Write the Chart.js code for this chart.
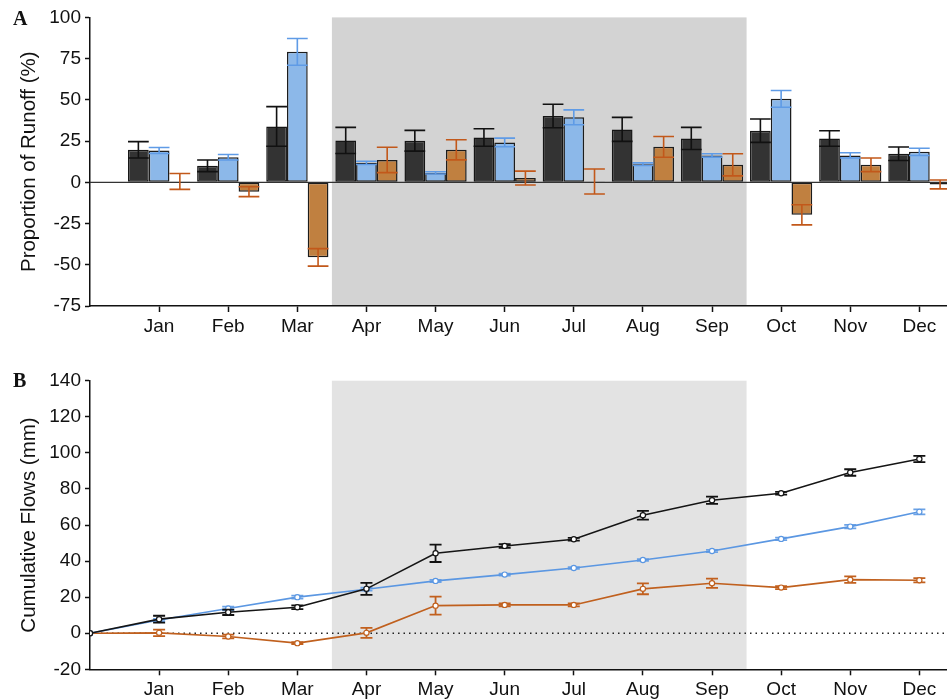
<!DOCTYPE html>
<html>
<head>
<meta charset="utf-8">
<script src="https://cdn.jsdelivr.net/npm/chart.js@4.4.0/dist/chart.umd.min.js"></script>
<style>
  html, body { margin: 0; padding: 0; background: #fff; }
  #wrap { position: relative; width: 947px; height: 699px; overflow: hidden; }
  canvas { position: absolute; left: 0; }
  #chartA { top: 0; }
  #chartB { top: 360px; }
</style>
</head>
<body>
<div id="wrap">
  <canvas id="chartA" width="947" height="360"></canvas>
  <canvas id="chartB" width="947" height="339"></canvas>
</div>
<script>
// Month categories and their positions on the numeric x axis
const months = ['Jan', 'Feb', 'Mar', 'Apr', 'May', 'Jun', 'Jul', 'Aug', 'Sep', 'Oct', 'Nov', 'Dec'];
const monthPos = [1, 2, 3, 4, 5, 6, 7, 8, 9, 10, 11, 12];
const shadedSpan = [3.5, 9.5];          // Apr–Sep band

// Panel A: proportion of runoff (%), mean and error
const runoffDark = [19.7, 10.0, 33.9, 25.4, 25.2, 27.2, 40.2, 32.1, 26.6, 31.3, 26.6, 17.3];
const runoffDarkErr = [5.0, 3.5, 12.0, 7.9, 6.3, 5.3, 7.1, 7.3, 6.7, 7.1, 4.7, 4.1];
const runoffBlue = [19.3, 15.2, 79.1, 11.8, 5.7, 24.2, 39.4, 11.0, 16.3, 50.6, 16.3, 18.5];
const runoffBlueErr = [1.8, 1.7, 8.1, 1.0, 0.7, 2.6, 4.5, 0.8, 1.0, 5.1, 1.6, 2.2];
const runoffOrange = [0.5, -5.7, -45.5, 13.6, 19.7, 2.6, 0.5, 21.5, 10.6, -19.7, 10.6, -1.3];
const runoffOrangeErr = [4.8, 3.0, 5.3, 7.7, 6.1, 4.2, 7.6, 6.3, 6.7, 6.1, 4.1, 2.7];
const runoffTicks = [-75, -50, -25, 0, 25, 50, 75, 100];

// Panel B: cumulative flows (mm), starting from the origin
const flowPos = [0, 1, 2, 3, 4, 5, 6, 7, 8, 9, 10, 11, 12];
const flowDark = [0, 7.8, 11.6, 14.4, 24.6, 44.3, 48.4, 52.1, 65.4, 73.7, 77.6, 89.1, 96.6];
const flowDarkErr = [0, 1.9, 1.5, 1.0, 3.3, 4.8, 1.0, 0.8, 2.4, 2.0, 0.8, 1.8, 1.7];
const flowBlue = [0, 7.3, 13.7, 20.0, 24.4, 29.0, 32.5, 36.2, 40.6, 45.6, 52.3, 59.1, 67.3];
const flowBlueErr = [0, 0.6, 1.0, 0.8, 0.8, 0.6, 0.5, 0.5, 0.5, 0.6, 0.7, 1.0, 1.4];
const flowOrange = [0, 0.2, -1.8, -5.5, 0.2, 15.3, 15.7, 15.7, 24.6, 27.7, 25.3, 29.7, 29.4];
const flowOrangeErr = [0, 1.8, 1.0, 0.5, 2.8, 5.0, 0.8, 0.8, 3.0, 2.6, 0.8, 1.8, 1.2];
const flowTicks = [-20, 0, 20, 40, 60, 80, 100, 120, 140];

const FONT = "'Liberation Sans', Arial, Helvetica, sans-serif";
const INK = '#111';

const pairs = (xs, ys) => ys.map((y, i) => ({ x: xs[i], y }));

// Shaded season band, behind everything
const bandPlugin = {
  id: 'band',
  beforeDraw(chart, args, opts) {
    const { ctx, chartArea: a, scales: { x } } = chart;
    const x0 = x.getPixelForValue(opts.from), x1 = x.getPixelForValue(opts.to);
    ctx.save();
    ctx.fillStyle = opts.color;
    ctx.fillRect(x0, a.top, x1 - x0, a.bottom - a.top);
    ctx.restore();
  }
};

// Horizontal reference line at y = 0
const zeroPlugin = {
  id: 'zeroLine',
  beforeDatasetsDraw(chart, args, opts) {
    const { ctx, chartArea: a, scales: { y } } = chart;
    const py = y.getPixelForValue(0);
    ctx.save();
    ctx.strokeStyle = opts.color;
    ctx.lineWidth = opts.width;
    ctx.setLineDash(opts.dash || []);
    ctx.beginPath();
    ctx.moveTo(a.left, py);
    ctx.lineTo(a.right, py);
    ctx.stroke();
    ctx.restore();
  }
};

// Error bars with caps; bars get them on top, line series underneath the markers
function drawErrors(chart, index) {
  const ds = chart.data.datasets[index];
  if (!ds.errors) return;
  const meta = chart.getDatasetMeta(index);
  const { ctx, scales: { y } } = chart;
  ctx.save();
  ctx.strokeStyle = ds.errColor;
  ctx.lineWidth = ds.errWidth;
  meta.data.forEach((el, i) => {
    const e = ds.errors[i];
    if (!e) return;
    const v = ds.data[i].y;
    const hi = y.getPixelForValue(v + e), lo = y.getPixelForValue(v - e);
    const half = ds.capHalf != null ? ds.capHalf : el.width / 2;
    ctx.beginPath();
    ctx.moveTo(el.x, hi); ctx.lineTo(el.x, lo);
    ctx.moveTo(el.x - half, hi); ctx.lineTo(el.x + half, hi);
    ctx.moveTo(el.x - half, lo); ctx.lineTo(el.x + half, lo);
    ctx.stroke();
  });
  ctx.restore();
}
const errorPlugin = {
  id: 'errorBars',
  beforeDatasetDraw(chart, args) {
    if (chart.config.type === 'line') drawErrors(chart, args.index);
  },
  afterDatasetDraw(chart, args) {
    if (chart.config.type === 'bar') drawErrors(chart, args.index);
  }
};

// Panel letter in the top-left corner
const letterPlugin = {
  id: 'panelLetter',
  afterDraw(chart, args, opts) {
    const ctx = chart.ctx;
    ctx.save();
    ctx.font = "bold 20px 'Liberation Serif', 'Times New Roman', serif";
    ctx.fillStyle = INK;
    ctx.textBaseline = 'alphabetic';
    ctx.fillText(opts.text, 13, opts.baseline);
    ctx.restore();
  }
};

function xScale(height) {
  return {
    type: 'linear', min: 0, max: 12.4, offset: false,
    afterBuildTicks: s => { s.ticks = monthPos.map(v => ({ value: v })); },
    ticks: {
      callback: (v, i) => months[i],
      autoSkip: false, maxRotation: 0, padding: 3,
      color: INK, font: { family: FONT, size: 19 }
    },
    grid: { offset: false, drawOnChartArea: false, tickLength: 6, tickColor: INK, tickWidth: 1.5 },
    border: { color: INK, width: 1.5 },
    afterFit: s => { s.height = height; s.paddingLeft = 0; s.paddingRight = 0; }
  };
}

function yScale(min, max, tickValues, title) {
  return {
    min, max,
    afterBuildTicks: s => { s.ticks = tickValues.map(v => ({ value: v })); },
    ticks: { color: INK, padding: 4, font: { family: FONT, size: 19 } },
    grid: { drawOnChartArea: false, tickLength: 5, tickColor: INK, tickWidth: 1.5 },
    border: { color: INK, width: 1.5 },
    title: { display: true, text: title, color: INK, font: { family: FONT, size: 20.5 }, padding: { top: 17, bottom: 0 } },
    afterFit: s => { s.width = 90; s.paddingTop = 0; s.paddingBottom = 0; }
  };
}

const common = {
  responsive: false,
  animation: false,
  events: [],
  plugins: { legend: { display: false }, tooltip: { enabled: false } }
};

new Chart(document.getElementById('chartA'), {
  type: 'bar',
  data: {
    datasets: [
      { label: 'Series 1', data: pairs(monthPos, runoffDark), errors: runoffDarkErr,
        backgroundColor: '#333333', borderColor: '#151515', errColor: '#111', errWidth: 1.6 },
      { label: 'Series 2', data: pairs(monthPos, runoffBlue), errors: runoffBlueErr,
        backgroundColor: '#8cb8e9', borderColor: '#1c1c1c', errColor: '#5f9be6', errWidth: 1.6 },
      { label: 'Series 3', data: pairs(monthPos, runoffOrange), errors: runoffOrangeErr,
        backgroundColor: '#c08040', borderColor: '#1c1c1c', errColor: '#c2581a', errWidth: 1.6 }
    ].map(d => Object.assign(d, { borderWidth: 1.5, borderSkipped: false, categoryPercentage: 0.9, barPercentage: 1.0 }))
  },
  options: Object.assign({}, common, {
    layout: { autoPadding: false, padding: { top: 17.4, left: 0, right: 0, bottom: 0 } },
    scales: { x: xScale(54), y: yScale(-75, 100, runoffTicks, 'Proportion of Runoff (%)') },
    plugins: Object.assign({}, common.plugins, {
      band: { from: shadedSpan[0], to: shadedSpan[1], color: '#d3d3d3' },
      zeroLine: { color: '#333', width: 1.3 },
      panelLetter: { text: 'A', baseline: 25 }
    })
  }),
  plugins: [bandPlugin, zeroPlugin, errorPlugin, letterPlugin]
});

const lineStyle = (color, values, errs, errColor) => ({
  data: pairs(flowPos, values), errors: errs,
  borderColor: color, borderWidth: 1.6, tension: 0,
  pointRadius: 2.6, pointBackgroundColor: '#fff', pointBorderColor: color, pointBorderWidth: 1.2,
  errColor: errColor, errWidth: 1.8, capHalf: 6
});

new Chart(document.getElementById('chartB'), {
  type: 'line',
  data: {
    datasets: [
      Object.assign({ label: 'Series 1' }, lineStyle('#151515', flowDark, flowDarkErr, '#111')),
      Object.assign({ label: 'Series 2' }, lineStyle('#5b97e2', flowBlue, flowBlueErr, '#6ba2e6')),
      Object.assign({ label: 'Series 3' }, lineStyle('#c0601e', flowOrange, flowOrangeErr, '#c2601e'))
    ]
  },
  options: Object.assign({}, common, {
    layout: { autoPadding: false, padding: { top: 20.7, left: 0, right: 0, bottom: 0 } },
    scales: { x: xScale(29.7), y: yScale(-20, 140, flowTicks, 'Cumulative Flows (mm)') },
    plugins: Object.assign({}, common.plugins, {
      band: { from: shadedSpan[0], to: shadedSpan[1], color: '#e3e3e3' },
      zeroLine: { color: '#222', width: 1.5, dash: [1.5, 4] },
      panelLetter: { text: 'B', baseline: 27 }
    })
  }),
  plugins: [bandPlugin, zeroPlugin, errorPlugin, letterPlugin]
});
</script>
</body>
</html>
